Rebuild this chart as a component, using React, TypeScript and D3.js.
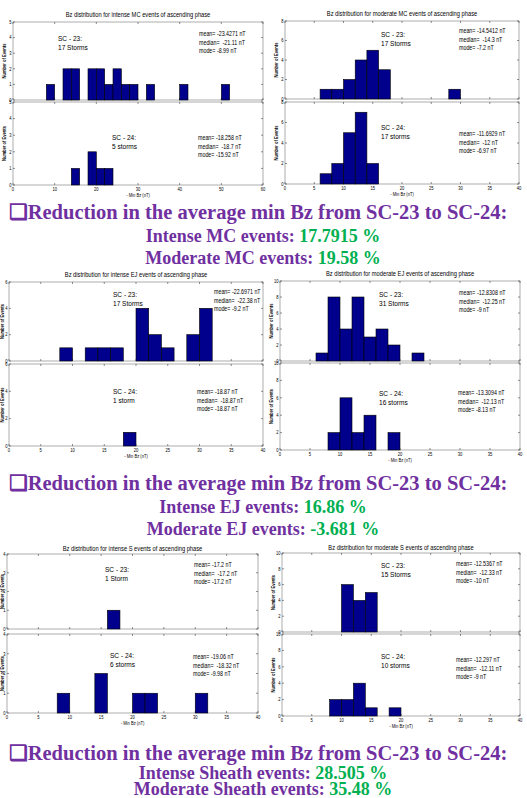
import { useEffect, useRef } from "react";
import * as d3 from "d3";

// bin width of the histograms (nT)
const BIN = 2;

// lower bin edges of -Min Bz (nT) and number of events in each bin
const mcIntense23Bins = [8, 12, 14, 18, 20, 22, 24, 26, 28, 32, 40, 50];
const mcIntense23Counts = [1, 2, 2, 2, 2, 1, 2, 1, 1, 1, 1, 1];
const mcIntense24Bins = [14, 18, 20, 22];
const mcIntense24Counts = [1, 2, 1, 1];
const mcModerate23Bins = [6, 8, 10, 12, 14, 16, 28];
const mcModerate23Counts = [1, 1, 2, 4, 5, 3, 1];
const mcModerate24Bins = [6, 8, 10, 12, 14];
const mcModerate24Counts = [1, 2, 5, 7, 2];
const ejIntense23Bins = [8, 12, 14, 16, 20, 22, 24, 28, 30];
const ejIntense23Counts = [1, 1, 1, 1, 4, 2, 1, 2, 4];
const ejIntense24Bins = [18];
const ejIntense24Counts = [1];
const ejModerate23Bins = [6, 8, 10, 12, 14, 16, 18, 22];
const ejModerate23Counts = [1, 8, 4, 8, 3, 4, 2, 1];
const ejModerate24Bins = [8, 10, 12, 14, 18];
const ejModerate24Counts = [2, 6, 2, 4, 2];
const sIntense23Bins = [16];
const sIntense23Counts = [1];
const sIntense24Bins = [8, 14, 20, 22, 30];
const sIntense24Counts = [1, 2, 1, 1, 1];
const sModerate23Bins = [10, 12, 14];
const sModerate23Counts = [6, 4, 5];
const sModerate24Bins = [8, 10, 12, 14, 18];
const sModerate24Counts = [2, 2, 4, 1, 1];

const titles = [
  "Bz distribution for intense MC events of ascending phase",
  "Bz distribution for moderate MC events of ascending phase",
  "Bz distribution for intense EJ events of ascending phase",
  "Bz distribution for moderate EJ events of ascending phase",
  "Bz distribution for intense S events of ascending phase",
  "Bz distribution for moderate S events of ascending phase",
];

const stormLabels = [
  ["17 Storms", "5 storms"],
  ["17 Storms", "17 storms"],
  ["17 Storms", "1 storm"],
  ["31 Storms", "16 storms"],
  ["1 Storm", "6 storms"],
  ["15 Storms", "10 storms"],
];

const stats = [
  [["-23.4271", "-21.11", "-8.99"], ["-18.258", "-18.7", "-15.92"]],
  [["-14.5412", "-14.3", "-7.2"], ["-11.6929", "-12", "-6.97"]],
  [["-22.6971", "-22.38", "-9.2"], ["-18.87", "-18.87", "-18.87"]],
  [["-12.8308", "-12.25", "-9"], ["-13.3094", "-12.13", "-8.13"]],
  [["-17.2", "-17.2", "-17.2"], ["-19.06", "-18.32", "-9.98"]],
  [["-12.5367", "-12.33", "-10"], ["-12.297", "-12.11", "-9"]],
];

const reductionLabels = [
  ["Intense MC events: ", "Moderate MC events: "],
  ["Intense EJ events: ", "Moderate EJ events: "],
  ["Intense Sheath events: ", "Moderate Sheath events: "],
];
const reductionValues = [
  ["17.7915 %", "19.58 %"],
  ["16.86 %", "-3.681 %"],
  ["28.505 %", "35.48 %"],
];

const hists = [
  [[mcIntense23Bins, mcIntense23Counts], [mcIntense24Bins, mcIntense24Counts]],
  [[mcModerate23Bins, mcModerate23Counts], [mcModerate24Bins, mcModerate24Counts]],
  [[ejIntense23Bins, ejIntense23Counts], [ejIntense24Bins, ejIntense24Counts]],
  [[ejModerate23Bins, ejModerate23Counts], [ejModerate24Bins, ejModerate24Counts]],
  [[sIntense23Bins, sIntense23Counts], [sIntense24Bins, sIntense24Counts]],
  [[sModerate23Bins, sModerate23Counts], [sModerate24Bins, sModerate24Counts]],
];

// page layout of each figure pair (pixels)
const layout = [
  { x: [13, 263], xMax: 60, xStep: 10, yMax: 5, yStep: 1, top: [100, 22], bot: [185, 102], titleY: 17,
    sc: [[58, 38], [112, 137]], st: [[199, 34], [198, 138]] },
  { x: [285, 519], xMax: 40, xStep: 5, yMax: 8, yStep: 2, top: [99, 21], bot: [184, 102], titleY: 16,
    sc: [[381, 34], [381, 127]], st: [[459, 31], [459, 134]] },
  { x: [9, 263], xMax: 40, xStep: 5, yMax: 6, yStep: 2, top: [361, 282], bot: [446, 364], titleY: 277,
    sc: [[113, 294], [113, 391]], st: [[214, 292], [197, 392]] },
  { x: [280, 520], xMax: 40, xStep: 5, yMax: 10, yStep: 2, top: [361, 281], bot: [450, 363], titleY: 276,
    sc: [[379, 294], [379, 393]], st: [[459, 293], [458, 393]] },
  { x: [7, 258], xMax: 40, xStep: 5, yMax: 4, yStep: 1, top: [629, 554], bot: [713, 634], titleY: 551,
    sc: [[105, 569], [110, 655]], st: [[194, 565], [193, 657]] },
  { x: [282, 520], xMax: 40, xStep: 5, yMax: 10, yStep: 2, top: [632, 553], bot: [716, 634], titleY: 550,
    sc: [[381, 565], [381, 656]], st: [[456, 564], [456, 660]] },
];

const textBlocks = [
  { y: [219, 242, 264] },
  { y: [490, 513, 535] },
  { y: [760, 779, 795] },
];

const SANS = "'Liberation Sans', Arial, sans-serif";
const SERIF = "'Liberation Serif', 'Times New Roman', serif";
const PURPLE = "#7030a0";
const GREEN = "#00b050";
const SQUEEZE = 0.82;

type Sel = d3.Selection<SVGGElement, unknown, null, undefined>;

// condensed text, like the narrow font of the original figures
function narrow(g: Sel, x: number, y: number, size: number, txt: string, anchor = "start") {
  return g.append("text")
    .attr("transform", `translate(${x},${y}) scale(${SQUEEZE},1)`)
    .attr("text-anchor", anchor)
    .style("font-family", SANS)
    .style("font-size", `${size}px`)
    .style("white-space", "pre")
    .text(txt);
}

export default function App() {
  const svgRef = useRef<SVGSVGElement | null>(null);

  useEffect(() => {
    const svg = d3.select(svgRef.current);
    svg.selectAll("*").remove();

    layout.forEach((p, pi) => {
      const xScale = d3.scaleLinear().domain([0, p.xMax]).range(p.x);
      const xTicks = d3.range(0, p.xMax + 0.001, p.xStep);
      const yTicks = d3.range(0, p.yMax + 0.001, p.yStep);
      const g = svg.append("g") as unknown as Sel;

      narrow(g, (p.x[0] + p.x[1]) / 2, p.titleY, 7, titles[pi], "middle");

      [p.top, p.bot].forEach((yr, k) => {
        const yScale = d3.scaleLinear().domain([0, p.yMax]).range(yr);
        const [bins, counts] = hists[pi][k];
        const sub = g.append("g") as unknown as Sel;

        sub.append("rect")
          .attr("x", p.x[0])
          .attr("y", yr[1])
          .attr("width", p.x[1] - p.x[0])
          .attr("height", yr[0] - yr[1])
          .attr("fill", "white")
          .attr("stroke", "#9a9a9a")
          .attr("stroke-width", 0.8);

        // ticks inside the box on all four sides
        xTicks.forEach((t) => {
          const xp = xScale(t);
          sub.append("line").attr("x1", xp).attr("x2", xp).attr("y1", yr[0]).attr("y2", yr[0] - 2)
            .attr("stroke", "#444").attr("stroke-width", 0.6);
          sub.append("line").attr("x1", xp).attr("x2", xp).attr("y1", yr[1]).attr("y2", yr[1] + 2)
            .attr("stroke", "#444").attr("stroke-width", 0.6);
        });
        yTicks.forEach((t) => {
          const yp = yScale(t);
          sub.append("line").attr("x1", p.x[0]).attr("x2", p.x[0] + 2).attr("y1", yp).attr("y2", yp)
            .attr("stroke", "#444").attr("stroke-width", 0.6);
          sub.append("line").attr("x1", p.x[1]).attr("x2", p.x[1] - 2).attr("y1", yp).attr("y2", yp)
            .attr("stroke", "#444").attr("stroke-width", 0.6);
          narrow(sub, p.x[0] - 1.5, yp + 1.8, 5, String(t), "end");
        });

        sub.selectAll("rect.bar")
          .data(bins.map((b: number, i: number) => ({ b, c: counts[i] })))
          .enter()
          .append("rect")
          .attr("class", "bar")
          .attr("x", (d) => xScale(d.b))
          .attr("width", (d) => xScale(d.b + BIN) - xScale(d.b))
          .attr("y", (d) => yScale(d.c))
          .attr("height", (d) => yScale(0) - yScale(d.c))
          .attr("fill", "#00008c")
          .attr("stroke", "#000")
          .attr("stroke-width", 0.6);

        sub.append("text")
          .attr("transform", `translate(${Math.max(p.x[0] - 7, 4)},${(yr[0] + yr[1]) / 2}) rotate(-90) scale(${SQUEEZE},1)`)
          .attr("text-anchor", "middle")
          .style("font-family", SANS)
          .style("font-size", "5px")
          .style("font-weight", "bold")
          .text("Number of Events");

        const [sx, sy] = p.sc[k];
        narrow(sub, sx, sy + 2.8, 8, k === 0 ? "SC - 23:" : "SC - 24:");
        narrow(sub, sx, sy + 11.5, 8, stormLabels[pi][k]);

        const [tx, ty] = p.st[k];
        const s = stats[pi][k];
        [`mean= ${s[0]} nT`, `median=  ${s[1]} nT`, `mode= ${s[2]} nT`].forEach((line, li) => {
          narrow(sub, tx, ty + 2.4 + li * 8.4, 6.5, line);
        });

        if (k === 1) {
          xTicks.forEach((t) => {
            narrow(sub, xScale(t), yr[0] + 6, 5, String(t), "middle");
          });
          narrow(sub, (p.x[0] + p.x[1]) / 2, yr[0] + 12, 5, "- Min Bz (nT)", "middle");
        }
      });
    });

    textBlocks.forEach((tb, bi) => {
      svg.append("text")
        .attr("x", 258)
        .attr("y", tb.y[0])
        .attr("text-anchor", "middle")
        .style("font-family", SERIF)
        .style("font-weight", "bold")
        .style("font-size", "20.5px")
        .attr("fill", PURPLE)
        .text("\u2751Reduction in the average min Bz from SC-23 to SC-24:");
      [0, 1].forEach((li) => {
        const t = svg.append("text")
          .attr("x", 263)
          .attr("y", tb.y[li + 1])
          .attr("text-anchor", "middle")
          .style("font-family", SERIF)
          .style("font-weight", "bold")
          .style("font-size", "18px");
        t.append("tspan").attr("fill", PURPLE).text(reductionLabels[bi][li]);
        t.append("tspan").attr("fill", GREEN).text(reductionValues[bi][li]);
      });
    });
  }, []);

  return (
    <div style={{ position: "absolute", left: 0, top: 0, width: 527, height: 798, background: "white" }}>
      <svg ref={svgRef} width={527} height={798} style={{ display: "block" }} />
    </div>
  );
}
